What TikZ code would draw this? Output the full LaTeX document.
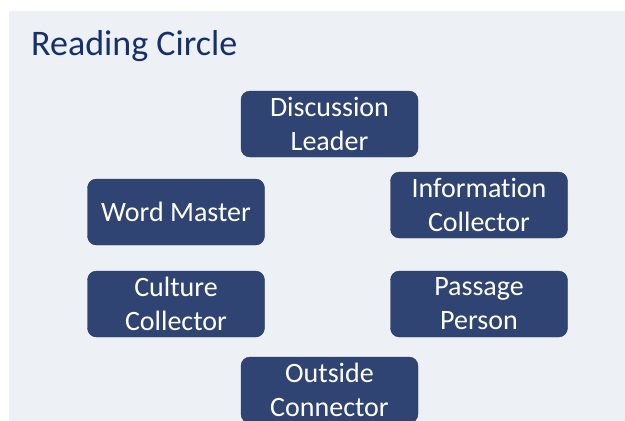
\documentclass[tikz,border=0pt]{standalone}
\usepackage{fontspec}
\setmainfont[Ligatures=CommonOff]{Carlito}
\definecolor{panel}{HTML}{EDF1F5}
\definecolor{rolefill}{HTML}{2F4472}
\definecolor{titleblue}{HTML}{17306A}
\tikzset{
  role/.style={draw=rolefill!80!black, fill=rolefill, rounded corners=9pt,
    minimum width=177pt, minimum height=66pt, inner sep=0pt, text=white,
    align=center, font=\fontsize{28}{34}\selectfont},
}
\begin{document}
\begin{tikzpicture}[x=1pt, y=1pt]
  \useasboundingbox (0,0) rectangle (625,-421);
  \fill[panel] (9,-11) rectangle (625,-421);

  \node[anchor=base west, inner sep=0pt, text=titleblue, font=\fontsize{36}{43}\selectfont]
    (title) at (31,-55) {Reading Circle};

  \node[role] (leader) at (329.5,-124) {Discussion\\Leader};
  \node[role] (word) at (176,-212) {Word Master};
  \node[role] (info) at (479,-205) {Information\\Collector};
  \node[role] (culture) at (176,-304) {Culture\\Collector};
  \node[role] (passage) at (479,-304) {Passage\\Person};
  \node[role] (outside) at (329.5,-390) {Outside\\Connector};
\end{tikzpicture}
\end{document}
